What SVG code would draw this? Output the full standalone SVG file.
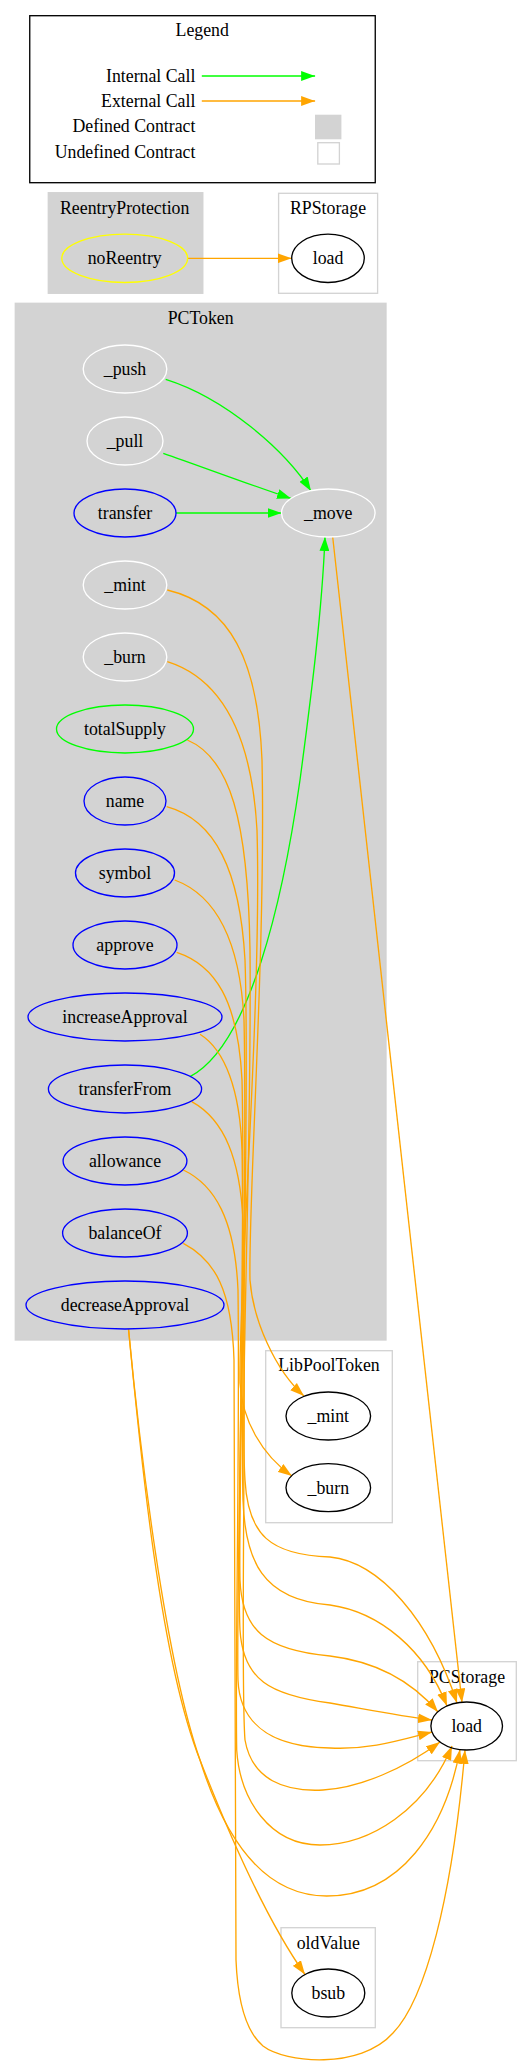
<svg xmlns="http://www.w3.org/2000/svg" width="530" height="2066" viewBox="0 0 530 2066">
<style>
.t{font-family:"Liberation Serif","Times New Roman",serif;font-size:17.8px;fill:#000;text-anchor:middle}
.r{text-anchor:end}
.cd{fill:#d3d3d3;stroke:#d3d3d3;stroke-width:1.33}
.cu{fill:#fff;stroke:#d3d3d3;stroke-width:1.33}
.n{fill:none;stroke-width:1.33}
.w{stroke:#fff}.b{stroke:#0000ff}.g{stroke:#00ff00}.y{stroke:#ffff00}.k{stroke:#000}
.eg{fill:none;stroke:#00ff00;stroke-width:1.33;marker-end:url(#ag)}
.eo{fill:none;stroke:#ffa500;stroke-width:1.33;marker-end:url(#ao)}
</style>
<defs>
<marker id="ag" markerUnits="userSpaceOnUse" markerWidth="14" markerHeight="10" refX="13.3" refY="4.67" orient="auto" viewBox="0 0 13.3 9.34"><path d="M0,0L13.3,4.67L0,9.34z" fill="#00ff00"/></marker>
<marker id="ao" markerUnits="userSpaceOnUse" markerWidth="14" markerHeight="10" refX="13.3" refY="4.67" orient="auto" viewBox="0 0 13.3 9.34"><path d="M0,0L13.3,4.67L0,9.34z" fill="#ffa500"/></marker>
</defs>
<rect width="530" height="2066" fill="#fff"/>
<g id="legend">
<rect x="29.75" y="15.7" width="345.5" height="167" fill="#fff" stroke="#000" stroke-width="1.33"/>
<text class="t" x="202.2" y="36">Legend</text>
<text class="t r" x="195.4" y="82">Internal Call</text>
<text class="t r" x="195.4" y="107">External Call</text>
<text class="t r" x="195.4" y="132">Defined Contract</text>
<text class="t r" x="195.4" y="158">Undefined Contract</text>
<path class="eg" d="M201.8,76L315.1,76"/>
<path class="eo" d="M201.8,101L315.1,101"/>
<rect x="315" y="114.7" width="26.4" height="24.6" fill="#d3d3d3"/>
<rect x="317.8" y="142.7" width="21.6" height="21.3" class="cu"/>
</g>
<g id="cluster_ReentryProtection">
<rect class="cd" x="48.3" y="192.7" width="154.5" height="100.6"/>
<text class="t" x="124.7" y="214">ReentryProtection</text>
</g>
<g id="cluster_RPStorage">
<rect class="cu" x="278.6" y="193.3" width="99" height="100"/>
<text class="t" x="328" y="214">RPStorage</text>
</g>
<g id="cluster_PCToken">
<rect class="cd" x="15.3" y="303.3" width="370.7" height="1036.7"/>
<text class="t" x="200.7" y="324">PCToken</text>
</g>
<g id="cluster_LibPoolToken">
<rect class="cu" x="265.7" y="1350.7" width="126.6" height="172"/>
<text class="t" x="329" y="1371">LibPoolToken</text>
</g>
<g id="cluster_PCStorage">
<rect class="cu" x="417.7" y="1661.7" width="98.6" height="99"/>
<text class="t" x="467" y="1682.7">PCStorage</text>
</g>
<g id="cluster_oldValue">
<rect class="cu" x="281" y="1927.7" width="94.3" height="100"/>
<text class="t" x="328.3" y="1948.7">oldValue</text>
</g>
<g id="edges">
<path class="eo" d="M187.6,258.3L291.6,258.3"/>
<path class="eg" d="M165.7,379.3C225,398 285,450 311,491"/>
<path class="eg" d="M163.3,453.3C200,466 245,483 291,498.5"/>
<path class="eg" d="M176,513L281.5,513"/>
<path class="eg" d="M190,1076.7C250,1045 283,900 300,780C312,690 322,610 325,537"/>
<path class="eo" d="M332.7,537L462,1702.5"/>
<path class="eo" d="M167.3,590C230,605 258,660 262,760C266,950 248,1200 250,1280C253,1320 275,1370 304,1396"/>
<path class="eo" d="M167.3,661.7C225,680 252,740 257,830C262,1000 238,1300 240,1383C242,1420 262,1455 292,1476"/>
<path class="eo" d="M187.3,740C230,758 248,820 250,950C252,1150 240,1400 245,1480C248,1535 270,1555 330,1557C380,1562 430,1620 457,1703"/>
<path class="eo" d="M166.7,806.7C215,820 240,870 245,960C250,1100 240,1400 243,1500C245,1560 262,1600 330,1605C380,1612 425,1650 447,1706"/>
<path class="eo" d="M174.7,880C215,895 240,940 244,1020C248,1200 238,1500 240,1580C242,1630 265,1650 330,1656C380,1662 415,1685 438,1712"/>
<path class="eo" d="M176.7,952.3C215,965 238,1000 242,1080C246,1250 236,1550 240,1630C243,1680 270,1695 330,1703C370,1710 400,1716 432,1720"/>
<path class="eo" d="M200,1034.3C225,1050 240,1090 242,1150C245,1300 236,1600 238,1680C240,1730 280,1747 330,1748C370,1750 400,1740 432,1732"/>
<path class="eo" d="M191.7,1101.7C225,1120 240,1160 243,1220C247,1400 240,1680 245,1740C252,1780 285,1792 323,1790C360,1788 405,1768 440,1742"/>
<path class="eo" d="M183.3,1170C215,1185 235,1220 238,1290C240,1450 235,1650 236.7,1750C240,1800 270,1845 320,1845C370,1845 425,1810 452,1746"/>
<path class="eo" d="M183.3,1243.3C215,1260 232,1290 234,1360L236,1960C238,2010 250,2035 263,2046C285,2063 360,2070 393,2033C425,2000 452,1900 465,1750"/>
<path class="eo" d="M128.5,1329C140,1450 165,1660 200,1760C225,1840 265,1896 326.7,1896C400,1896 445,1830 460,1749.6"/>
<path class="eo" d="M128.5,1329C140,1450 160,1660 200,1760C235,1850 270,1925 305,1974.5"/>
</g>
<g id="node_noReentry"><ellipse class="n y" cx="124.7" cy="258.3" rx="62.9" ry="24.2"/><text class="t" x="124.7" y="264.3">noReentry</text></g>
<g id="node_RPStorage_load"><ellipse class="n k" cx="328" cy="258.3" rx="36.3" ry="24.2"/><text class="t" x="328" y="264.3">load</text></g>
<g id="node_push"><ellipse class="n w" cx="125" cy="369" rx="41.8" ry="24"/><text class="t" x="125" y="375">_push</text></g>
<g id="node_pull"><ellipse class="n w" cx="125" cy="441" rx="38" ry="24"/><text class="t" x="125" y="447">_pull</text></g>
<g id="node_transfer"><ellipse class="n b" cx="125" cy="513" rx="51" ry="24"/><text class="t" x="125" y="519">transfer</text></g>
<g id="node_move"><ellipse class="n w" cx="328.3" cy="513" rx="46.8" ry="24"/><text class="t" x="328.3" y="519">_move</text></g>
<g id="node_mint"><ellipse class="n w" cx="125" cy="585" rx="41.8" ry="24"/><text class="t" x="125" y="591">_mint</text></g>
<g id="node_burn"><ellipse class="n w" cx="125" cy="657" rx="41.8" ry="24"/><text class="t" x="125" y="663">_burn</text></g>
<g id="node_totalSupply"><ellipse class="n g" cx="125" cy="729" rx="68.5" ry="24"/><text class="t" x="125" y="735">totalSupply</text></g>
<g id="node_name"><ellipse class="n b" cx="125" cy="801" rx="41" ry="24"/><text class="t" x="125" y="807">name</text></g>
<g id="node_symbol"><ellipse class="n b" cx="125" cy="873" rx="49.5" ry="24"/><text class="t" x="125" y="879">symbol</text></g>
<g id="node_approve"><ellipse class="n b" cx="125" cy="945" rx="52" ry="24"/><text class="t" x="125" y="951">approve</text></g>
<g id="node_increaseApproval"><ellipse class="n b" cx="125" cy="1017" rx="97" ry="24"/><text class="t" x="125" y="1023">increaseApproval</text></g>
<g id="node_transferFrom"><ellipse class="n b" cx="125" cy="1089" rx="76.6" ry="24"/><text class="t" x="125" y="1095">transferFrom</text></g>
<g id="node_allowance"><ellipse class="n b" cx="125" cy="1161" rx="61.9" ry="24"/><text class="t" x="125" y="1167">allowance</text></g>
<g id="node_balanceOf"><ellipse class="n b" cx="125" cy="1233" rx="62.4" ry="24"/><text class="t" x="125" y="1239">balanceOf</text></g>
<g id="node_decreaseApproval"><ellipse class="n b" cx="125" cy="1305" rx="99" ry="24"/><text class="t" x="125" y="1311">decreaseApproval</text></g>
<g id="node_LibPoolToken_mint"><ellipse class="n k" cx="328.3" cy="1416" rx="42.3" ry="24"/><text class="t" x="328.3" y="1422">_mint</text></g>
<g id="node_LibPoolToken_burn"><ellipse class="n k" cx="328.3" cy="1487.7" rx="42.3" ry="24"/><text class="t" x="328.3" y="1493.7">_burn</text></g>
<g id="node_PCStorage_load"><ellipse class="n k" cx="466.7" cy="1726" rx="35.8" ry="24"/><text class="t" x="466.7" y="1732">load</text></g>
<g id="node_bsub"><ellipse class="n k" cx="328.3" cy="1993" rx="36.5" ry="24"/><text class="t" x="328.3" y="1999">bsub</text></g>
</svg>
